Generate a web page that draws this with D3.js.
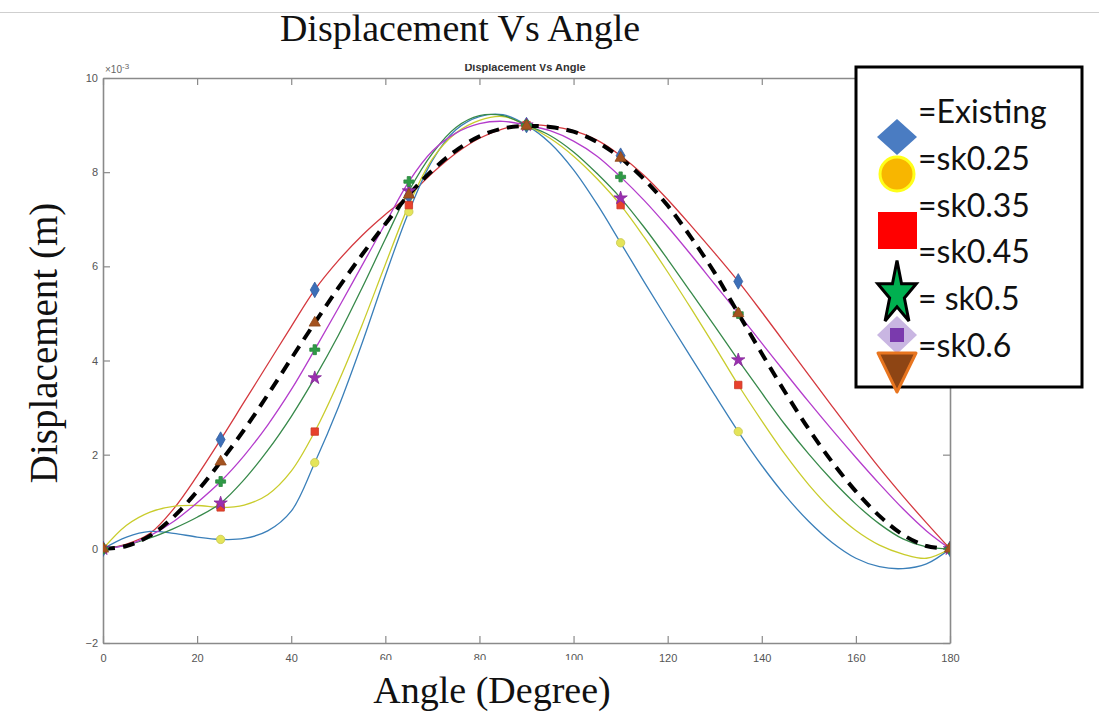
<!DOCTYPE html>
<html>
<head>
<meta charset="utf-8">
<script src="https://cdn.jsdelivr.net/npm/d3@7"></script>
<style>
  body { margin: 0; background: #fff; }
  svg { display: block; }
</style>
</head>
<body>
<svg id="chart"></svg>
<script>
// angle samples (degree)
const angles = [0, 5, 10, 15, 20, 25, 30, 35, 40, 45, 50, 55, 60, 65, 70, 75, 80, 85, 90,
                95, 100, 105, 110, 115, 120, 125, 130, 135, 140, 145, 150, 155, 160, 165, 170, 175, 180];

// displacement values (x 1e-3 m)
const redLine    = [0, 0.1, 0.33, 0.85, 1.55, 2.32, 3.12, 3.92, 4.72, 5.5, 6.12, 6.65, 7.1, 7.5, 7.98, 8.4, 8.72, 8.92, 9.0,
                    8.98, 8.88, 8.68, 8.35, 7.93, 7.42, 6.86, 6.28, 5.68, 5.03, 4.36, 3.69, 3.02, 2.36, 1.72, 1.12, 0.55, 0];
const blueLine   = [0, 0.25, 0.37, 0.33, 0.25, 0.2, 0.22, 0.38, 0.8, 1.83, 3.0, 4.35, 5.8, 7.16, 8.25, 8.9, 9.18, 9.22, 9.0,
                    8.62, 8.05, 7.32, 6.5, 5.67, 4.86, 4.06, 3.27, 2.49, 1.77, 1.13, 0.58, 0.13, -0.2, -0.38, -0.42, -0.32, 0];
const yellowLine = [0, 0.5, 0.78, 0.9, 0.92, 0.88, 0.93, 1.15, 1.65, 2.49, 3.54, 4.74, 6.04, 7.3, 8.28, 8.83, 9.1, 9.18, 9.0,
                    8.72, 8.34, 7.86, 7.3, 6.62, 5.88, 5.1, 4.3, 3.48, 2.72, 2.0, 1.36, 0.82, 0.39, 0.08, -0.11, -0.2, 0];
const greenLine  = [0, 0.08, 0.23, 0.43, 0.67, 0.97, 1.47, 2.09, 2.81, 3.63, 4.53, 5.53, 6.58, 7.6, 8.4, 8.95, 9.2, 9.2, 9.0,
                    8.78, 8.43, 7.97, 7.45, 6.83, 6.15, 5.44, 4.73, 4.01, 3.31, 2.63, 2.01, 1.45, 0.95, 0.53, 0.21, 0.04, 0];
const purpleLine = [0, 0.08, 0.28, 0.58, 0.98, 1.43, 1.98, 2.63, 3.38, 4.23, 5.11, 6.01, 6.91, 7.8, 8.45, 8.83, 9.03, 9.08, 9.0,
                    8.88, 8.66, 8.34, 7.9, 7.4, 6.84, 6.24, 5.62, 5.0, 4.37, 3.74, 3.12, 2.52, 1.94, 1.38, 0.85, 0.38, 0];
const blackLine  = [0, 0.06, 0.28, 0.68, 1.22, 1.85, 2.53, 3.27, 4.04, 4.8, 5.54, 6.24, 6.9, 7.52, 8.04, 8.46, 8.76, 8.93, 8.98,
                    8.96, 8.86, 8.64, 8.3, 7.85, 7.29, 6.61, 5.86, 5.0, 4.15, 3.32, 2.54, 1.84, 1.22, 0.7, 0.3, 0.06, 0];

// angles where the markers sit
const markerAngles = [0, 25, 45, 65, 90, 110, 135, 180];

const xTicks = [0, 20, 40, 60, 80, 100, 120, 140, 160, 180];
const yTicks = [-2, 0, 2, 4, 6, 8, 10];

const legendLabels = ['=Existing', '=sk0.25', '=sk0.35', '=sk0.45', '= sk0.5', '=sk0.6'];

const series = [
    { values: redLine,    color: '#d4383e', width: 1.3, marker: 'diamond', mcolor: '#3d6fb8' },
    { values: blueLine,   color: '#3a7fb9', width: 1.3, marker: 'circle',  mcolor: '#e4e45a' },
    { values: yellowLine, color: '#c9cc2c', width: 1.3, marker: 'square',  mcolor: '#e8412c' },
    { values: greenLine,  color: '#37894a', width: 1.3, marker: 'star',    mcolor: '#9a2fb0' },
    { values: purpleLine, color: '#b43ccc', width: 1.3, marker: 'cross',   mcolor: '#2f9a46' },
    { values: blackLine,  color: '#000000', width: 4,   marker: 'triangle', mcolor: '#a4531f', dash: '12,8' }
];

const width = 1099, height = 722;
const margin = { top: 78, right: 149, bottom: 79, left: 103 };

const svg = d3.select('#chart')
    .attr('width', width)
    .attr('height', height);

// thin page rule at the top
svg.append('line')
    .attr('x1', 0).attr('x2', width)
    .attr('y1', 12.5).attr('y2', 12.5)
    .attr('stroke', '#cfcfcf')
    .attr('stroke-width', 1);

const xscale = d3.scaleLinear()
    .domain([0, 180])
    .range([margin.left, width - margin.right]);

const yscale = d3.scaleLinear()
    .domain([-2, 10])
    .range([height - margin.bottom, margin.top]);

const axisColor = '#8a8a8a';

function styleAxis(g) {
    g.select('.domain').attr('stroke', axisColor).attr('stroke-width', 1.6);
    g.selectAll('.tick line').attr('stroke', axisColor).attr('stroke-width', 1.2);
    g.selectAll('.tick text')
        .attr('fill', '#555')
        .style('font-family', 'Liberation Sans, Arial, sans-serif')
        .style('font-size', '11px');
}

svg.append('g')
    .attr('transform', `translate(0, ${yscale(-2)})`)
    .call(d3.axisBottom(xscale).tickValues(xTicks).tickSizeInner(-7).tickSizeOuter(0).tickPadding(11))
    .call(styleAxis);

svg.append('g')
    .attr('transform', `translate(0, ${yscale(10)})`)
    .call(d3.axisTop(xscale).tickValues(xTicks).tickSizeInner(-7).tickSizeOuter(0).tickFormat(''))
    .call(styleAxis);

svg.append('g')
    .attr('transform', `translate(${xscale(0)}, 0)`)
    .call(d3.axisLeft(yscale).tickValues(yTicks).tickSizeInner(-7).tickSizeOuter(0).tickPadding(5))
    .call(styleAxis);

svg.append('g')
    .attr('transform', `translate(${xscale(180)}, 0)`)
    .call(d3.axisRight(yscale).tickValues(yTicks).tickSizeInner(-7).tickSizeOuter(0).tickFormat(''))
    .call(styleAxis);

// exponent label
svg.append('text')
    .attr('x', xscale(0) + 2)
    .attr('y', yscale(10) - 5)
    .attr('fill', '#666')
    .style('font-family', 'Liberation Sans, Arial, sans-serif')
    .style('font-size', '10px')
    .html('\u00d710<tspan dy="-4" font-size="8">-3</tspan>');

// small inner title, half hidden
svg.append('text')
    .attr('x', 525)
    .attr('y', 71)
    .attr('text-anchor', 'middle')
    .attr('fill', '#333')
    .style('font-family', 'Liberation Sans, Arial, sans-serif')
    .style('font-weight', 'bold')
    .style('font-size', '11px')
    .text('Displacement Vs Angle');
svg.append('rect')
    .attr('x', 420).attr('y', 44)
    .attr('width', 220).attr('height', 20)
    .attr('fill', '#fff');

// lines
svg.append('clipPath').attr('id', 'plot-clip')
    .append('rect')
    .attr('x', xscale(0)).attr('y', yscale(10))
    .attr('width', xscale(180) - xscale(0))
    .attr('height', yscale(-2) - yscale(10));

const plot = svg.append('g').attr('clip-path', 'url(#plot-clip)');

const line = d3.line()
    .x((d, i) => xscale(angles[i]))
    .y(d => yscale(d))
    .curve(d3.curveCatmullRom.alpha(0.5));

series.forEach(s => {
    plot.append('path')
        .datum(s.values)
        .attr('d', line)
        .attr('fill', 'none')
        .attr('stroke', s.color)
        .attr('stroke-width', s.width)
        .attr('stroke-dasharray', s.dash || null);
});

// markers
const symbolTypes = {
    diamond: d3.symbolDiamond,
    circle: d3.symbolCircle,
    square: d3.symbolSquare,
    star: d3.symbolStar,
    cross: d3.symbolCross,
    triangle: d3.symbolTriangle
};

series.forEach(s => {
    const pts = markerAngles.map(a => ({ a: a, v: s.values[angles.indexOf(a)] }));
    plot.selectAll(null)
        .data(pts)
        .join('path')
        .attr('transform', d => `translate(${xscale(d.a)}, ${yscale(d.v)})`)
        .attr('d', d3.symbol(symbolTypes[s.marker], s.marker === 'diamond' ? 70 : 55))
        .attr('fill', s.mcolor)
        .attr('stroke', d3.color(s.mcolor).darker(0.4))
        .attr('stroke-width', 0.8);
});

// titles
svg.append('text')
    .attr('x', 460)
    .attr('y', 41)
    .attr('text-anchor', 'middle')
    .style('font-family', 'Liberation Serif, Times New Roman, serif')
    .style('font-size', '38px')
    .attr('fill', '#111')
    .text('Displacement Vs Angle');

svg.append('text')
    .attr('transform', 'rotate(-90)')
    .attr('x', -343)
    .attr('y', 57)
    .attr('text-anchor', 'middle')
    .style('font-family', 'Liberation Serif, Times New Roman, serif')
    .style('font-size', '39px')
    .attr('fill', '#111')
    .text('Displacement (m)');

// white box behind the x label hides part of the tick labels
svg.append('rect')
    .attr('x', 345).attr('y', 660)
    .attr('width', 300).attr('height', 62)
    .attr('fill', '#fff');

svg.append('text')
    .attr('x', 492)
    .attr('y', 703)
    .attr('text-anchor', 'middle')
    .style('font-family', 'Liberation Serif, Times New Roman, serif')
    .style('font-size', '38px')
    .attr('fill', '#111')
    .text('Angle (Degree)');

// legend
const legend = svg.append('g').attr('class', 'legend');

legend.append('rect')
    .attr('x', 856).attr('y', 67)
    .attr('width', 226).attr('height', 320)
    .attr('fill', '#fff')
    .attr('stroke', '#000')
    .attr('stroke-width', 3);

const lx = 897;
legend.append('path')
    .attr('d', 'M0,-18 L20,0 L0,18 L-20,0 Z')
    .attr('transform', `translate(${lx}, 137)`)
    .attr('fill', '#4a7cc2');

legend.append('circle')
    .attr('cx', lx).attr('cy', 174).attr('r', 17)
    .attr('fill', '#f8b600')
    .attr('stroke', '#ffff1a')
    .attr('stroke-width', 3);

legend.append('rect')
    .attr('x', lx - 19).attr('y', 212)
    .attr('width', 39).attr('height', 37)
    .attr('fill', '#ff0000');

legend.append('path')
    .attr('d', d3.symbol(d3.symbolStar, 1000))
    .attr('transform', `translate(${lx}, 294) scale(0.68, 1.12)`)
    .attr('fill', '#00b050')
    .attr('stroke', '#000')
    .attr('stroke-width', 3)
    .attr('vector-effect', 'non-scaling-stroke');

legend.append('path')
    .attr('d', 'M0,-19 L20,0 L0,19 L-20,0 Z')
    .attr('transform', `translate(${lx}, 335)`)
    .attr('fill', '#c9b6e2');
legend.append('rect')
    .attr('x', lx - 7).attr('y', 328)
    .attr('width', 14).attr('height', 14)
    .attr('fill', '#7a3aad');

legend.append('path')
    .attr('d', 'M-19,0 L19,0 L0,39 Z')
    .attr('transform', `translate(${lx}, 353)`)
    .attr('fill', '#8e4514')
    .attr('stroke', '#e8751f')
    .attr('stroke-width', 3)
    .attr('stroke-linejoin', 'round');

legend.selectAll('text.label')
    .data(legendLabels)
    .join('text')
    .attr('class', 'label')
    .attr('x', 918)
    .attr('y', (d, i) => [123, 170, 217, 263, 310, 357][i])
    .style('font-family', 'Lato, Open Sans, sans-serif')
    .style('font-size', '32px')
    .attr('fill', '#111')
    .text(d => d);
</script>
</body>
</html>
